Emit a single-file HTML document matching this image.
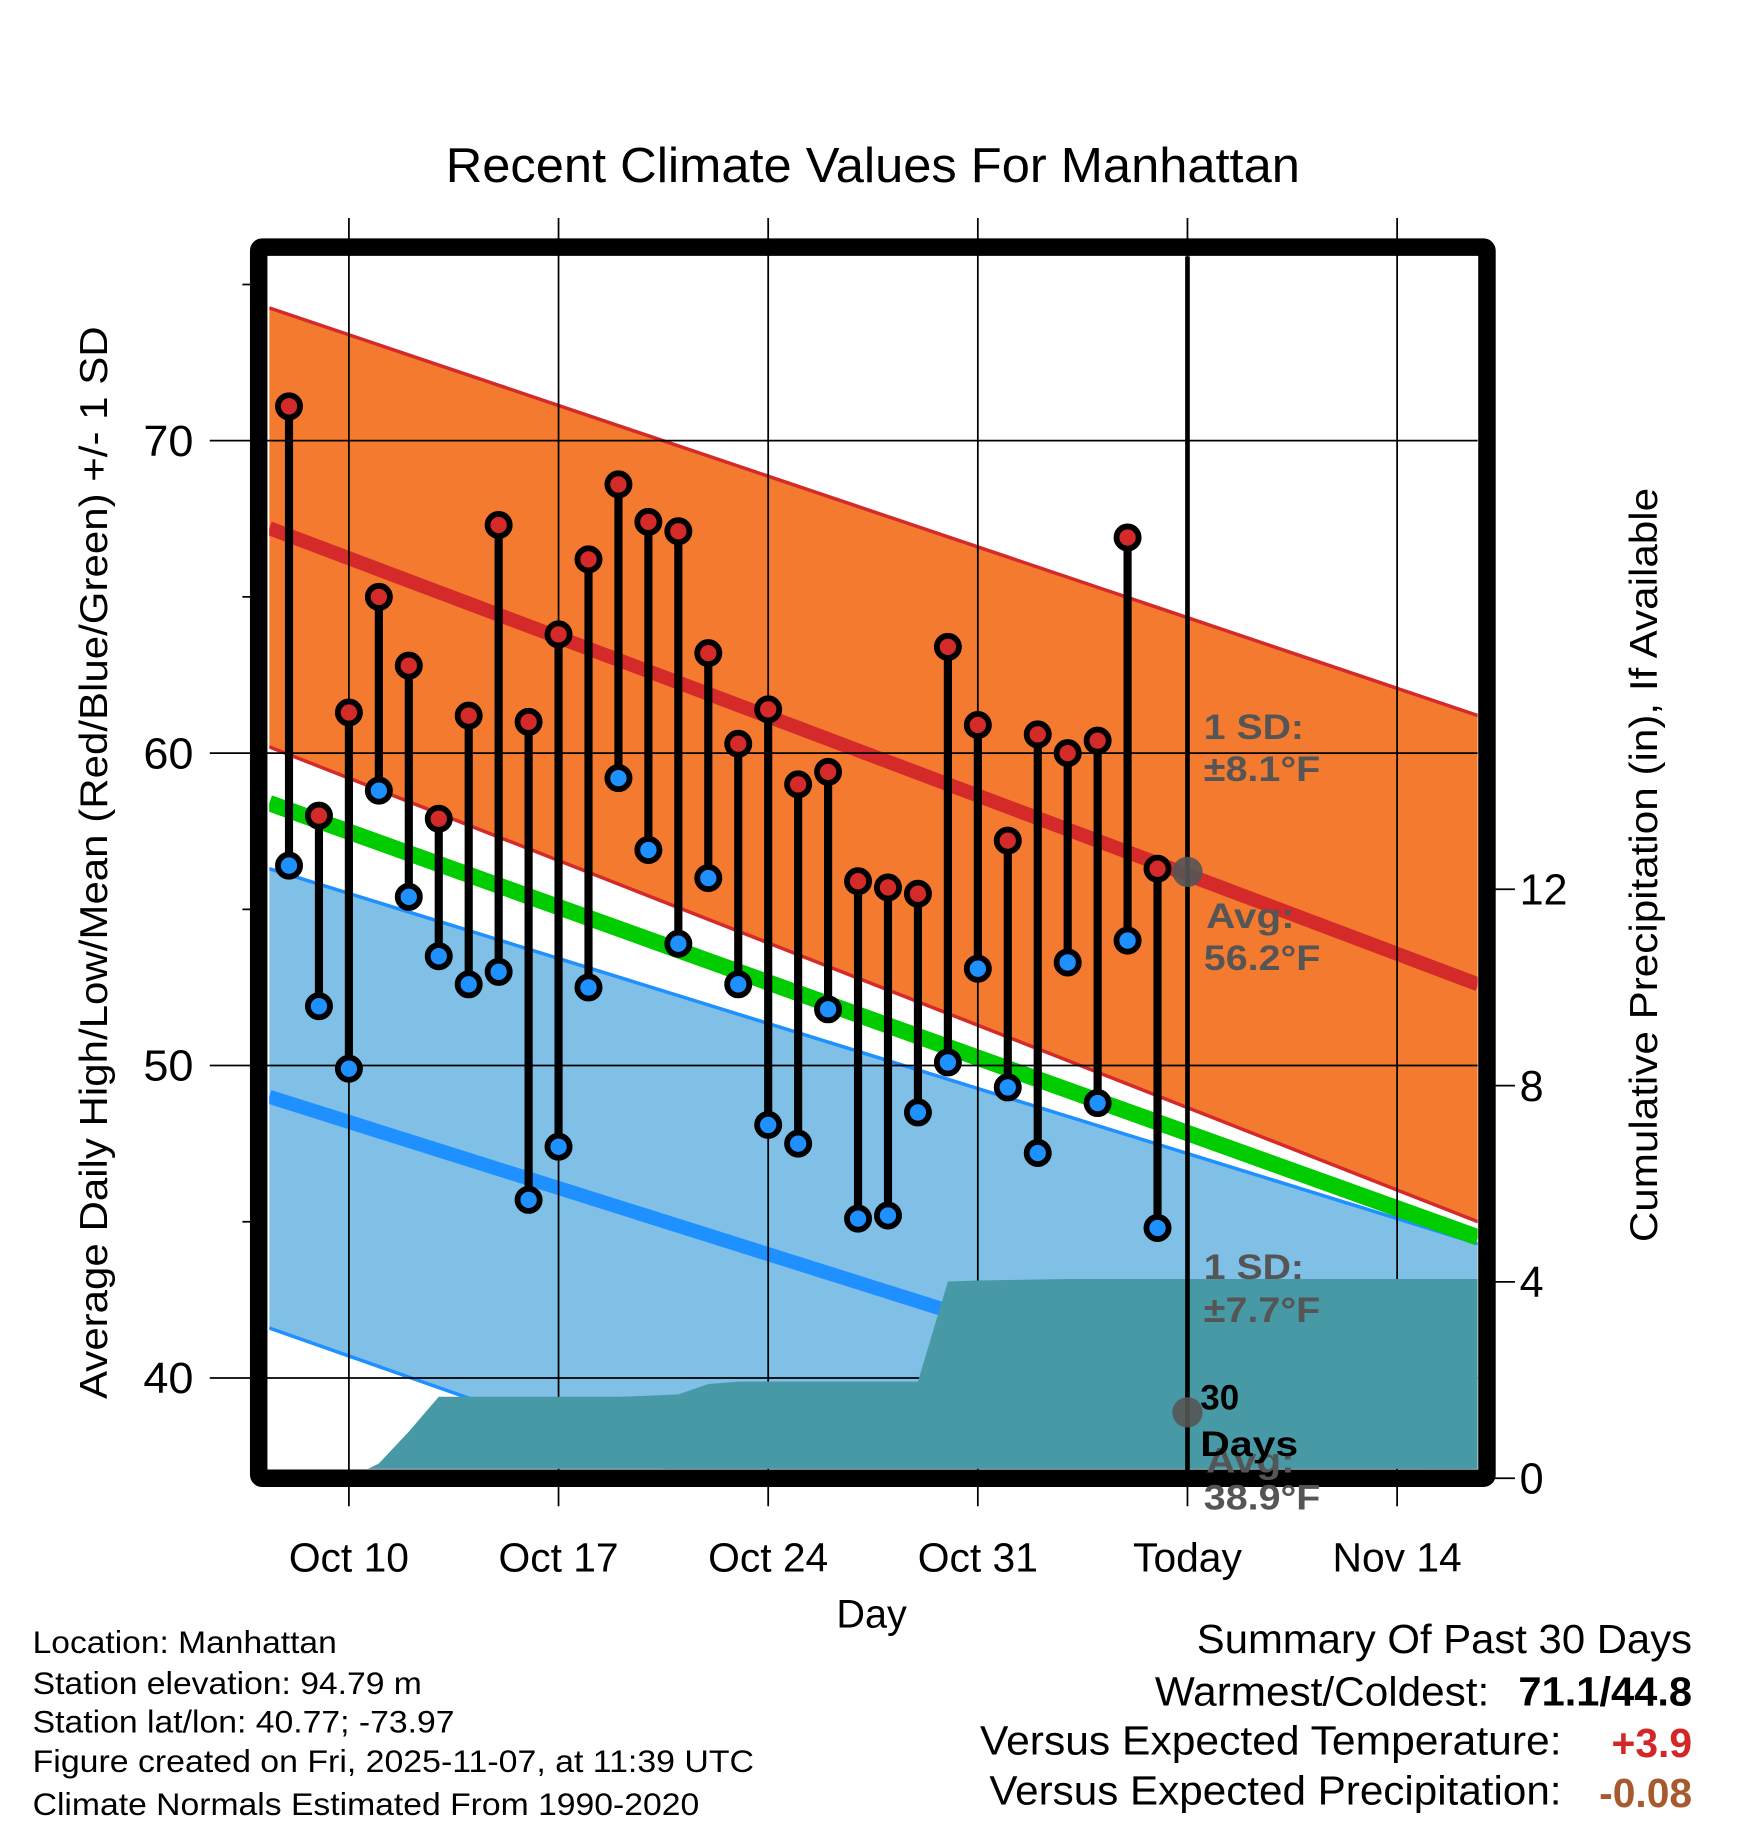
<!DOCTYPE html>
<html><head><meta charset="utf-8"><style>
html,body{margin:0;padding:0;background:#fff}
svg{display:block;font-family:"Liberation Sans",Arial,sans-serif}
</style></head><body>
<svg id="chart" width="1748" height="1828" viewBox="0 0 1500 1568" preserveAspectRatio="none" xmlns="http://www.w3.org/2000/svg">
<defs><clipPath id="plotclip"><rect x="231" y="220" width="1037" height="1040"/></clipPath></defs>
<rect x="0" y="0" width="1500" height="1568" fill="#fff"/>
<g id="bands" clip-path="url(#plotclip)"></g>
<g id="grid"></g>
<g id="precip" clip-path="url(#plotclip)"></g>
<g id="marks"></g>
<g id="frame"></g>
<g id="texts"></g>
</svg>
<script>
// ---- data ----
const highs = [71.1,58.0,61.3,65.0,62.8,57.9,61.2,67.3,61.0,63.8,66.2,68.6,67.4,67.1,63.2,60.3,61.4,59.0,59.4,55.9,55.7,55.5,63.4,60.9,57.2,60.6,60.0,60.4,66.9,56.3];
const lows  = [56.4,51.9,49.9,58.8,55.4,53.5,52.6,53.0,45.7,47.4,52.5,59.2,56.9,53.9,56.0,52.6,48.1,47.5,51.8,45.1,45.2,48.5,50.1,53.1,49.3,47.2,53.3,48.8,54.0,44.8];
const precipCum = [0,0,0,0.3,0.95,1.66,1.66,1.66,1.66,1.66,1.66,1.66,1.68,1.71,1.92,1.97,1.97,1.97,1.97,1.97,1.97,1.97,4.01,4.03,4.04,4.05,4.06,4.06,4.06,4.06];
const normDays = [-0.66, 39.7];
const highUpper = [74.25, 61.2];
const highMean  = [67.2, 52.6];
const highLower = [60.2, 45.0];
const meanTemp  = [58.4, 44.5];
const lowUpper  = [56.3, 44.3];
const lowMean   = [49.0, 36.8];
const lowLower  = [41.6, 28.0];
const yTicks = [40,50,60,70];
const yMinor = [45,55,65,75];
const pTicks = [0,4,8,12];
const xTickDays = [2,9,16,23,30,37];
const xTickLabels = ["Oct 10","Oct 17","Oct 24","Oct 31","Today","Nov 14"];
const todayDay = 30;

// ---- scales ----
const X = d => 248 + d*25.7;
const Y = v => 646 - (v-60)*26.8;
const P = p => 1268 - p*42.1;
const NS = "http://www.w3.org/2000/svg";
function mk(tag, attrs, parent){const e=document.createElementNS(NS,tag);for(const k in attrs)e.setAttribute(k,attrs[k]);parent.appendChild(e);return e;}
const bands=document.getElementById('bands'),grid=document.getElementById('grid'),precip=document.getElementById('precip'),marks=document.getElementById('marks'),frame=document.getElementById('frame'),texts=document.getElementById('texts');
const pts = arr => arr.map((v,i)=>X(normDays[i])+','+Y(v));

let e;
e=mk('polygon',{points:pts(highUpper).concat(pts(highLower).reverse()).join(' '),fill:'#f47a30'},bands);


e=mk('polygon',{points:pts(lowUpper).concat(pts(lowLower).reverse()).join(' '),fill:'#80bfe6'},bands);


[[highUpper,'#d42a2a',3,'high-upper-line'],[highLower,'#d42a2a',3,'high-lower-line'],[lowUpper,'#1e90ff',3,'low-upper-line'],[lowLower,'#1e90ff',3,'low-lower-line'],[highMean,'#d42a2a',12,'normal-high-line'],[lowMean,'#1e90ff',12,'normal-low-line'],[meanTemp,'#00cc00',14,'normal-mean-line']].forEach(a=>{
  e=mk('polyline',{points:pts(a[0]).join(' '),fill:'none',stroke:a[1],'stroke-width':a[2]},bands);
  
  
});
yTicks.forEach(v=>{e=mk('line',{x1:180,x2:1268,y1:Y(v),y2:Y(v),stroke:'#000','stroke-width':1.5},grid);
  
  
  e=mk('text',{x:166,y:Y(v)+13,'text-anchor':'end','font-size':37,textLength:43,lengthAdjust:'spacingAndGlyphs'},texts);e.textContent=v;
  
  });
yMinor.forEach(v=>{e=mk('line',{x1:208,x2:222,y1:Y(v),y2:Y(v),stroke:'#000','stroke-width':1.5},grid);
  
  });
xTickDays.forEach((d,i)=>{e=mk('line',{x1:X(d),x2:X(d),y1:187,y2:1292,stroke:'#000','stroke-width':1.5},grid);
  
  
  e=mk('text',{x:X(d),y:1348,'text-anchor':'middle','font-size':35},texts);e.textContent=xTickLabels[i];
  
  });
pTicks.forEach(p=>{e=mk('line',{x1:1276,x2:1300,y1:P(p),y2:P(p),stroke:'#000','stroke-width':1.5},grid);
  
  
  e=mk('text',{x:1304,y:P(p)+13,'font-size':37},texts);e.textContent=p;
  
  });
let pp=[X(-0.66)+','+P(0)];
precipCum.forEach((p,i)=>pp.push(X(i)+','+P(p)));
pp.push('1268,'+P(precipCum[precipCum.length-1]));pp.push('1268,1270');pp.push(X(-0.66)+',1270');
e=mk('polygon',{points:pp.join(' '),fill:'#4799a5'},precip);


e=mk('line',{x1:X(todayDay),x2:X(todayDay),y1:220,y2:1262,stroke:'#000','stroke-width':4},marks);


highs.forEach((h,i)=>{
  e=mk('line',{x1:X(i),x2:X(i),y1:Y(h),y2:Y(lows[i]),stroke:'#000','stroke-width':7},marks);
  
  
});
highs.forEach((h,i)=>{
  e=mk('circle',{cx:X(i),cy:Y(h),r:9.5,fill:'#d42a2a',stroke:'#000','stroke-width':5},marks);
  
  
  e=mk('circle',{cx:X(i),cy:Y(lows[i]),r:9.5,fill:'#1e90ff',stroke:'#000','stroke-width':5},marks);
  
  
});
[56.2,38.9].forEach(v=>{e=mk('circle',{cx:X(todayDay),cy:Y(v),r:13,fill:'#555','fill-opacity':0.9},marks);
  
  });
e=mk('rect',{x:222,y:212,width:1054,height:1056,fill:'none',stroke:'#000','stroke-width':15,rx:3},frame);


</script>
<svg style="position:absolute;left:0;top:0" width="1748" height="1828" viewBox="0 0 1500 1568" preserveAspectRatio="none" xmlns="http://www.w3.org/2000/svg" font-family="Liberation Sans, Arial, sans-serif">
<text x="749" y="156" text-anchor="middle" font-size="42" textLength="733" lengthAdjust="spacingAndGlyphs">Recent Climate Values For Manhattan</text>
<text transform="translate(92,740) rotate(-90)" text-anchor="middle" font-size="33" textLength="920" lengthAdjust="spacingAndGlyphs">Average Daily High/Low/Mean (Red/Blue/Green) +/- 1 SD</text>
<text transform="translate(1422,742) rotate(-90)" text-anchor="middle" font-size="33" textLength="647" lengthAdjust="spacingAndGlyphs">Cumulative Precipitation (in), If Available</text>
<text x="748" y="1396" text-anchor="middle" font-size="34">Day</text>
<g fill="#555" font-weight="bold" font-size="30"><text x="1033" y="634" textLength="86" lengthAdjust="spacingAndGlyphs">1 SD:</text><text x="1033" y="670" textLength="100" lengthAdjust="spacingAndGlyphs">±8.1°F</text></g>
<g fill="#555" font-weight="bold" font-size="30"><text x="1035" y="796" textLength="76" lengthAdjust="spacingAndGlyphs">Avg:</text><text x="1033" y="832" textLength="100" lengthAdjust="spacingAndGlyphs">56.2°F</text></g>
<g fill="#555" font-weight="bold" font-size="30"><text x="1033" y="1097" textLength="86" lengthAdjust="spacingAndGlyphs">1 SD:</text><text x="1033" y="1134" textLength="100" lengthAdjust="spacingAndGlyphs">±7.7°F</text></g>
<g fill="#555" font-weight="bold" font-size="30"><text x="1035" y="1263" textLength="76" lengthAdjust="spacingAndGlyphs">Avg:</text><text x="1033" y="1295" textLength="100" lengthAdjust="spacingAndGlyphs">38.9°F</text></g>
<g fill="#000" font-weight="bold" font-size="30"><text x="1030" y="1209">30</text><text x="1030" y="1249" textLength="84" lengthAdjust="spacingAndGlyphs">Days</text></g>
<g font-size="27" fill="#000">
<text x="28" y="1418" textLength="261" lengthAdjust="spacingAndGlyphs">Location: Manhattan</text>
<text x="28" y="1453" textLength="334" lengthAdjust="spacingAndGlyphs">Station elevation: 94.79 m</text>
<text x="28" y="1486" textLength="362" lengthAdjust="spacingAndGlyphs">Station lat/lon: 40.77; -73.97</text>
<text x="28" y="1520" textLength="619" lengthAdjust="spacingAndGlyphs">Figure created on Fri, 2025-11-07, at 11:39 UTC</text>
<text x="28" y="1557" textLength="572" lengthAdjust="spacingAndGlyphs">Climate Normals Estimated From 1990-2020</text>
</g>
<g font-size="35" fill="#000">
<text x="1452" y="1418" text-anchor="end" textLength="425" lengthAdjust="spacingAndGlyphs">Summary Of Past 30 Days</text>
<text x="1278" y="1463" text-anchor="end" textLength="287" lengthAdjust="spacingAndGlyphs">Warmest/Coldest:</text>
<text x="1452" y="1463" text-anchor="end" font-weight="bold" textLength="149" lengthAdjust="spacingAndGlyphs">71.1/44.8</text>
<text x="1340" y="1505" text-anchor="end" textLength="499" lengthAdjust="spacingAndGlyphs">Versus Expected Temperature:</text>
<text x="1452" y="1507" text-anchor="end" font-weight="bold" fill="#d42626">+3.9</text>
<text x="1340" y="1548" text-anchor="end" textLength="491" lengthAdjust="spacingAndGlyphs">Versus Expected Precipitation:</text>
<text x="1452" y="1550" text-anchor="end" font-weight="bold" fill="#a65a2e">-0.08</text>
</g>
</svg>
</body></html>
